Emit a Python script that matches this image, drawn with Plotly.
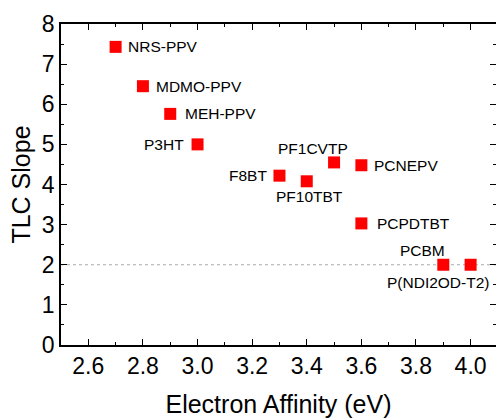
import plotly.graph_objects as go

# ---- data ----
materials = ["NRS-PPV", "MDMO-PPV", "MEH-PPV", "P3HT", "F8BT", "PF10TBT",
             "PF1CVTP", "PCNEPV", "PCPDTBT", "PCBM", "P(NDI2OD-T2)"]
electron_affinity = [2.7, 2.8, 2.9, 3.0, 3.3, 3.4, 3.5, 3.6, 3.6, 3.9, 4.0]
tlc_slope = [7.43, 6.45, 5.76, 5.0, 4.22, 4.08, 4.55, 4.48, 3.03, 2.0, 2.0]
reference_slope = 2

# label placement (anchor, x shift, y shift) per point
label_anchor = ["left", "left", "left", "right", "right", "center",
                "center", "left", "left", "center", "center"]
label_dx = [10, 11, 13, -12, -10, 3, -21, 11, 14, -21, -33]
label_dy = [0, 0, 0, 0, 0, -15, 14, 0, 0, 14, -18]

FONT = "Liberation Sans, Arial, sans-serif"

fig = go.Figure()
fig.add_trace(go.Scatter(
    x=electron_affinity, y=tlc_slope, mode="markers",
    marker=dict(symbol="square", size=12, color="#ff0000", line=dict(width=0)),
    showlegend=False, hoverinfo="skip"))
# invisible trace to hold right-side tick axis
fig.add_trace(go.Scatter(
    x=electron_affinity, y=tlc_slope, mode="markers", yaxis="y2",
    marker=dict(size=1, opacity=0), showlegend=False, hoverinfo="skip"))

for name, x, y, anc, dx, dy in zip(materials, electron_affinity, tlc_slope,
                                   label_anchor, label_dx, label_dy):
    fig.add_annotation(x=x, y=y, text=name, showarrow=False,
                       xanchor=anc, yanchor="middle", xshift=dx, yshift=dy,
                       font=dict(family=FONT, size=15.5, color="#000000"))

fig.add_shape(type="line", xref="paper", x0=0, x1=1, yref="y",
              y0=reference_slope, y1=reference_slope,
              line=dict(color="#aaaaaa", width=1, dash="dot"), layer="below")

fig.update_layout(
    width=496, height=418,
    margin=dict(l=61, r=0, t=24, b=73),
    paper_bgcolor="white", plot_bgcolor="white",
    font=dict(family=FONT, color="#000000"),
    xaxis=dict(range=[2.5, 4.093], tick0=2.6, dtick=0.2, tickformat=".1f",
               automargin=False,
               ticks="inside", ticklen=6, tickwidth=1, tickcolor="black",
               showline=True, linecolor="black", linewidth=1.5, mirror="ticks",
               showgrid=False, zeroline=False,
               minor=dict(tick0=2.5, dtick=0.1, ticks="inside", ticklen=3,
                          tickcolor="black", showgrid=False),
               tickfont=dict(size=23, family=FONT),
               title=dict(text="Electron Affinity (eV)", standoff=18,
                          font=dict(size=25, family=FONT))),
    yaxis=dict(range=[0, 8], dtick=1, ticks="inside", ticklen=6, tickwidth=1,
               automargin=False,
               tickcolor="black", showline=True, linecolor="black", linewidth=1.5,
               showgrid=False, zeroline=False,
               minor=dict(dtick=0.5, ticks="inside", ticklen=3,
                          tickcolor="black", showgrid=False),
               tickfont=dict(size=23, family=FONT),
               title=dict(text="TLC Slope", standoff=4,
                          font=dict(size=25, family=FONT))),
    yaxis2=dict(range=[0, 8], dtick=1, overlaying="y", side="right",
                automargin=False,
                ticks="inside", ticklen=6, tickcolor="black",
                showticklabels=False, showline=False, showgrid=False,
                zeroline=False,
                minor=dict(dtick=0.5, ticks="inside", ticklen=3,
                           tickcolor="black", showgrid=False)),
)

fig.write_html("out.html",
               config={"displayModeBar": False},
               post_script="document.body.style.margin='0';"
                           "document.body.style.padding='0';"
                           "document.body.style.overflow='hidden';")
